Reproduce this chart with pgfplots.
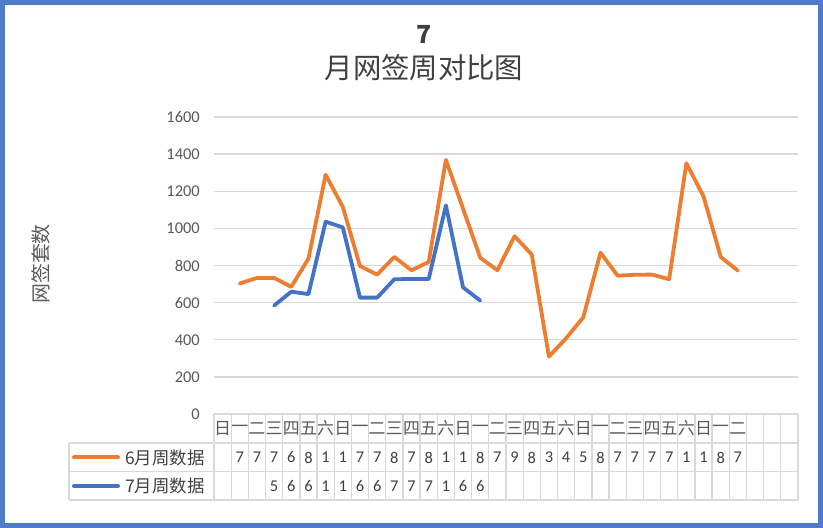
\documentclass[border=0pt]{standalone}
\usepackage{pgfplots}
\pgfplotsset{compat=1.18}
\usepackage{fontspec}
\setmainfont{Carlito}
\newfontfamily\cjk{Noto Sans CJK SC}
\definecolor{orng}{HTML}{ED7D31}
\definecolor{blu}{HTML}{4472C4}
\definecolor{frame}{HTML}{4F7BCB}
\definecolor{gridc}{HTML}{D9D9D9}
\definecolor{txt}{HTML}{595959}
\definecolor{dtxt}{HTML}{404040}

\pgfplotstableread{
x y
1.5 703
2.5 733
3.5 733
4.5 685
5.5 837
6.5 1289
7.5 1115
8.5 797
9.5 751
10.5 846
11.5 774
12.5 819
13.5 1369
14.5 1106
15.5 842
16.5 774
17.5 958
18.5 859
19.5 309
20.5 408
21.5 521
22.5 869
23.5 745
24.5 750
25.5 751
26.5 726
27.5 1351
28.5 1172
29.5 846
30.5 772
}\junedata

\pgfplotstableread{
x y
3.5 584
4.5 659
5.5 646
6.5 1036
7.5 1005
8.5 627
9.5 627
10.5 726
11.5 727
12.5 727
13.5 1124
14.5 682
15.5 611
}\julydata

\begin{document}
\begin{tikzpicture}[x=1bp,y=1bp]
\useasboundingbox (-214,-114) rectangle (609,414);
\draw[frame, line width=5bp] (-211.5,-111.5) rectangle (606.5,411.5);

\begin{axis}[
  at={(0,0)}, anchor=south west,
  scale only axis, width=584bp, height=297bp,
  xmin=0, xmax=34, ymin=0, ymax=1600,
  ytick={0,200,...,1600},
  xtick=\empty,
  ymajorgrids,
  grid style={color=gridc, line width=1.3bp},
  axis line style={draw=none},
  major tick length=0pt,
  /pgf/number format/assume math mode=true,
  /pgf/number format/1000 sep={},
  yticklabel style={font=\fontsize{16.5}{16.5}\selectfont, color=txt, inner sep=0pt, anchor=east, xshift=-14bp},
  clip=false,
]
\addplot[orng, line width=3.8bp, line join=round, line cap=round] table[x=x,y=y] {\junedata};
\addplot[blu, line width=3.8bp, line join=round, line cap=round] table[x=x,y=y] {\julydata};
\end{axis}

% data table
\def\cw{17.176}
\draw[gridc, line width=1.3bp] (0,0) -- (584,0);
\draw[gridc, line width=1.3bp] (-145,-29) -- (584,-29);
\draw[gridc, line width=1.3bp] (-145,-57.5) -- (584,-57.5);
\draw[gridc, line width=1.3bp] (-145,-86) -- (584,-86);
\draw[gridc, line width=1.3bp] (-145,-29) -- (-145,-86);
\foreach \k in {0,...,34} {
  \draw[gridc, line width=1.3bp] ({\k*\cw},0) -- ({\k*\cw},-86);
}
\foreach \c [count=\i] in {日,一,二,三,四,五,六,日,一,二,三,四,五,六,日,一,二,三,四,五,六,日,一,二,三,四,五,六,日,一,二} {
  \node[txt, inner sep=0pt, font=\cjk\fontsize{17}{17}\selectfont] at ({(\i-0.5)*\cw},-14.5) {\c};
}
\foreach \d [count=\i from 2] in {7,7,7,6,8,1,1,7,7,8,7,8,1,1,8,7,9,8,3,4,5,8,7,7,7,7,1,1,8,7} {
  \node[dtxt, inner sep=0pt, font=\fontsize{16.5}{16.5}\selectfont] at ({(\i-0.5)*\cw},-43.5) {\d};
}
\foreach \d [count=\i from 4] in {5,6,6,1,1,6,6,7,7,7,1,6,6} {
  \node[dtxt, inner sep=0pt, font=\fontsize{16.5}{16.5}\selectfont] at ({(\i-0.5)*\cw},-72) {\d};
}
% legend keys
\draw[orng, line width=4bp, line cap=round] (-140,-43.5) -- (-96,-43.5);
\draw[blu, line width=4bp, line cap=round] (-140,-72) -- (-96,-72);
\node[dtxt, anchor=west, inner sep=0pt, font=\cjk\fontsize{17.5}{17.5}\selectfont] at (-89,-43.5) {6月周数据};
\node[dtxt, anchor=west, inner sep=0pt, font=\cjk\fontsize{17.5}{17.5}\selectfont] at (-89,-72) {7月周数据};

% titles
\node[dtxt, inner sep=0pt, font=\cjk\bfseries\fontsize{25}{25}\selectfont] at (210,380) {7};
\node[dtxt, inner sep=0pt, font=\cjk\fontsize{28.5}{28.5}\selectfont] at (210,346) {月网签周对比图};
\node[txt, inner sep=0pt, rotate=90, font=\cjk\fontsize{20}{20}\selectfont] at (-173,150) {网签套数};
\end{tikzpicture}
\end{document}
